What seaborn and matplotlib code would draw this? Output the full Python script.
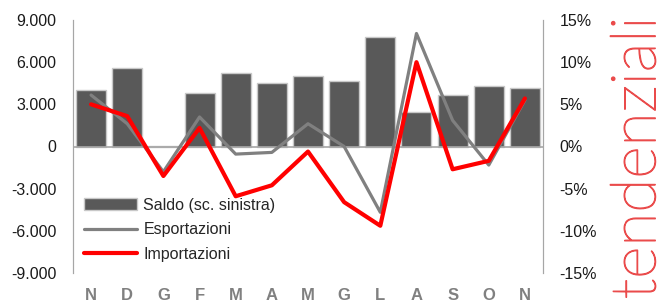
import matplotlib
matplotlib.use('Agg')
import matplotlib.pyplot as plt
import matplotlib.ticker as mticker
import matplotlib.patheffects as pe
import seaborn as sns
import numpy as np

# mesi (nov -> nov)
mesi = ['N', 'D', 'G', 'F', 'M', 'A', 'M', 'G', 'L', 'A', 'S', 'O', 'N']
# saldo commerciale, milioni di euro (scala sinistra)
saldo = [4000, 5590, 50, 3830, 5260, 4500, 5020, 4640, 7800, 2450, 3640, 4280, 4160]
# variazioni tendenziali % (scala destra)
esportazioni = [6.1, 2.7, -3.0, 3.5, -0.9, -0.7, 2.7, 0.0, -7.8, 13.4, 3.1, -2.2, 5.5]
importazioni = [5.0, 3.6, -3.5, 2.2, -5.9, -4.6, -0.6, -6.6, -9.4, 10.0, -2.7, -1.7, 5.7]

sns.set_style('white')
plt.rcParams['font.family'] = ['Liberation Sans', 'DejaVu Sans']

idx = np.arange(len(mesi))

fig = plt.figure(figsize=(6.68, 3.02), dpi=100)
ax1 = fig.add_axes([73 / 668, 1 - 273 / 302, 470 / 668, 253 / 302])
ax2 = ax1.twinx()

sns.barplot(x=idx, y=saldo, color='#595959', edgecolor='#c8c8c8', linewidth=1,
            width=0.83, saturation=1, ax=ax1, label='Saldo (sc. sinistra)')
ax1.axhline(0, color='#a6a6a6', lw=1.2, zorder=5)

sns.lineplot(x=idx, y=esportazioni, color='#808080', linewidth=2.3, ax=ax2,
             label='Esportazioni', zorder=3)
sns.lineplot(x=idx, y=importazioni, color='#ff0000', linewidth=3, ax=ax2,
             label='Importazioni', zorder=4)

ax1.set_xlim(-0.5, 12.5)
ax1.set_ylim(-9000, 9000)
ax1.set_yticks(np.arange(-9000, 9001, 3000))
ax1.yaxis.set_major_formatter(mticker.FuncFormatter(
    lambda v, p: f'{int(v):,}'.replace(',', '.')))
ax2.set_ylim(-15, 15)
ax2.set_yticks(np.arange(-15, 16, 5))
ax2.yaxis.set_major_formatter(mticker.FuncFormatter(lambda v, p: f'{int(v)}%'))

ax1.set_xticks(idx)
ax1.set_xticklabels(mesi, color='#808080', fontweight='bold', fontsize=12)
ax1.tick_params(axis='x', length=0, pad=11)
ax1.tick_params(axis='y', length=0, pad=12, labelsize=11.5, labelcolor='#1a1a1a')
ax2.tick_params(axis='y', length=0, pad=12, labelsize=11.5, labelcolor='#1a1a1a')
ax1.set_ylabel('')
ax2.set_ylabel('')

for ax in (ax1, ax2):
    for s in ('top', 'bottom'):
        ax.spines[s].set_visible(False)
    ax.spines['left'].set_color('#a6a6a6')
    ax.spines['right'].set_color('#a6a6a6')
    ax.grid(False)

h1, l1 = ax1.get_legend_handles_labels()
h2, l2 = ax2.get_legend_handles_labels()
if ax1.get_legend():
    ax1.get_legend().remove()
leg = ax2.legend(h1 + h2, l1 + l2, loc='lower left', bbox_to_anchor=(0.0, 0.0),
                 frameon=False, fontsize=11.5, handlelength=3.3, handletextpad=0.4,
                 labelspacing=0.6, borderaxespad=0.3)

rosso = '#ea4b4b'
fig.text(638 / 668, 1 - 158 / 302, 'tendenziali', rotation=90, ha='center', va='center',
         fontsize=45, color=rosso, family=['Lato', 'DejaVu Sans'], fontweight='light',
         path_effects=[pe.withStroke(linewidth=0.9, foreground=rosso)])

fig.savefig('out.png', dpi=100)
